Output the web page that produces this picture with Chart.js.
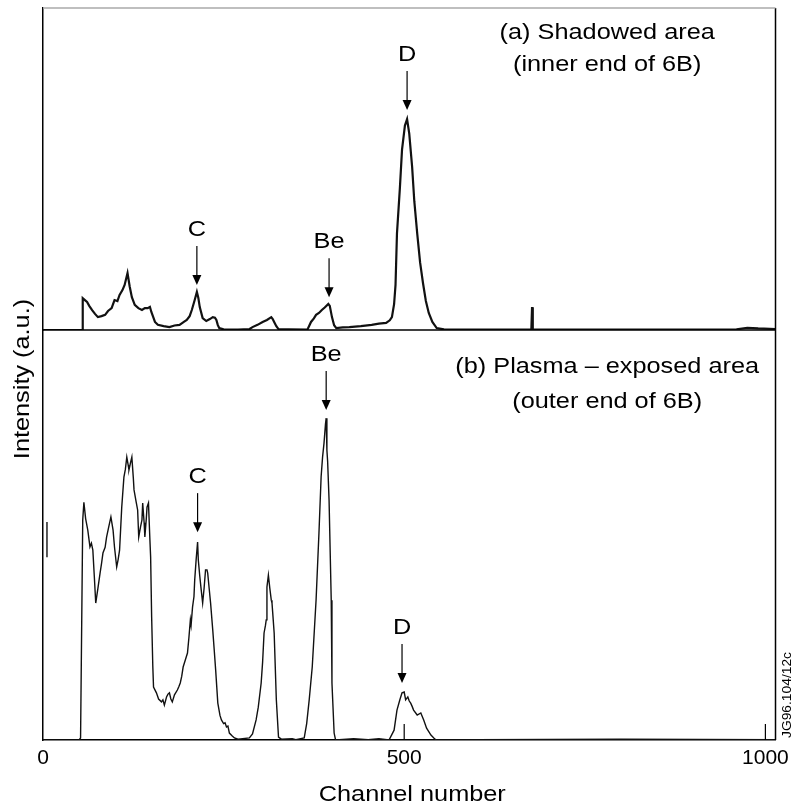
<!DOCTYPE html>
<html>
<head>
<meta charset="utf-8">
<script src="https://cdn.jsdelivr.net/npm/chart.js@4.4.1/dist/chart.umd.min.js"></script>
<style>
  html, body { margin: 0; padding: 0; background: #fff; }
  #wrap { width: 795px; height: 811px; }
</style>
</head>
<body>
<div id="wrap"><canvas id="c"></canvas></div>
<script>
// (a) shadowed area - channel / intensity (a.u., 0-100 of panel height)
var channelsA = [0, 54, 55, 58, 61, 64, 68, 72, 76, 81, 86, 90, 95, 99, 103, 106, 110, 113, 117, 120, 123, 127, 132, 137, 141, 145, 148, 150, 155, 159, 167, 175, 182, 189, 195, 199, 203, 206, 210, 213, 215, 217, 221, 226, 231, 235, 238, 240, 242, 244, 250, 270, 286, 290, 297, 304, 310, 316, 318, 320, 323, 326, 340, 366, 371, 375, 378, 382, 386, 390, 395, 397, 400, 403, 406, 415, 424, 440, 455, 465, 475, 480, 483, 486, 488, 490, 494, 497, 501, 504, 507, 511, 514, 518, 522, 526, 530, 534, 539, 545, 555, 600, 676, 677, 678, 750, 960, 975, 990, 1014]
var intensityA = [0, 0, 9.9, 9.3, 8.7, 7.5, 6.2, 5.0, 4.0, 4.3, 4.7, 5.9, 6.8, 9.3, 9.0, 10.9, 12.4, 14.0, 17.7, 13.5, 10.2, 7.8, 6.8, 6.2, 6.8, 6.8, 7.2, 5.6, 2.5, 1.6, 1.2, 0.9, 1.4, 1.6, 2.5, 3.1, 4.3, 6.2, 9.3, 11.8, 10.0, 7.1, 3.7, 2.8, 3.4, 4.0, 3.8, 3.1, 1.5, 0.6, 0.2, 0.1, 0.3, 0.9, 1.6, 2.5, 3.1, 4.0, 3.4, 2.5, 1.2, 0.3, 0.2, 0.1, 2.5, 3.6, 4.7, 5.3, 6.2, 7.0, 8.1, 7.5, 4.0, 1.5, 0.6, 0.8, 0.9, 1.2, 1.6, 2.0, 2.2, 3.0, 4.0, 8.0, 14, 30, 44, 56, 63.5, 65.5, 61, 50.6, 40, 30, 21, 14.6, 9, 5.3, 2.5, 0.6, 0.2, 0.1, 0.2, 7.1, 0.2, 0.1, 0.2, 0.7, 0.5, 0.3]

// (b) plasma-exposed area
var channelsB = [0, 50, 52, 55, 56.6, 59, 62, 65, 67, 69, 71, 73, 76, 79, 81, 83, 86, 88, 91, 94, 97, 99, 102, 104, 106, 109, 112, 114, 116, 118, 119, 121, 123, 125, 126, 129, 131, 132.5, 135, 137, 138, 140, 141, 143, 144, 146, 148, 149, 150.4, 152, 153, 157, 160, 164, 166, 168, 171, 173, 175, 177, 179, 182, 186, 188, 190, 192, 194, 197, 200, 202, 204, 205, 207, 209, 210, 212, 214, 215, 217, 219, 221, 223, 225, 227, 228, 230, 232, 235, 237, 239, 242, 245, 247, 250, 252, 254, 256, 258, 262, 265, 270, 285.7, 290, 295, 298, 302, 304, 306, 308, 309, 310, 312, 314, 316, 317, 318, 320, 323, 326, 330, 345, 350, 361.6, 365, 368.5, 372.7, 378, 382, 385, 387, 389, 391, 392, 393, 394, 396, 399, 400, 403, 405, 430, 450, 465, 479, 486, 490, 494, 497, 500, 502, 505, 507, 509, 511, 513, 518, 523, 527, 531, 537, 541, 544, 600, 800, 1014]
var intensityB = [0, 0, 0.5, 53.7, 58.0, 54, 51.2, 47.1, 48, 46.3, 40, 33.4, 37, 40.7, 43, 45.6, 47, 49.5, 52, 54.4, 51.2, 47, 42.2, 44, 46.3, 56.8, 64.1, 66, 69.0, 67, 65.9, 67.5, 69.0, 64, 61.0, 58, 56.1, 49.5, 52, 53.7, 57.8, 53, 49.5, 54, 56.8, 57.8, 48.8, 44.6, 30, 18, 12.9, 11.5, 10, 9.3, 9.8, 8.5, 10.5, 11.2, 11.5, 10, 9.3, 11, 12.2, 13, 13.9, 15.5, 17.8, 19.5, 21.2, 25, 29.3, 28, 32.4, 35, 39.0, 44, 48.3, 43.9, 40, 36.6, 33.4, 37, 41.5, 41.5, 40.7, 37, 33.4, 26.8, 22, 17.1, 9.0, 6, 4.9, 4, 4.2, 3.2, 3.4, 1.7, 1, 0.5, 0.2, 0.5, 1.5, 4.9, 8, 13.9, 19, 26.1, 28, 29.3, 37.3, 40.2, 37, 34.1, 33.4, 31, 26.1, 9.8, 0.7, 0.2, 0.3, 0.1, 0.5, 4, 9.8, 17.8, 34.1, 50.5, 64.2, 69, 72.4, 77, 78.5, 70.7, 68, 58.5, 34.1, 13.9, 1.7, 0, 0.3, 0.1, 0.3, 0, 2.4, 7.3, 9.8, 11.5, 11.7, 9.8, 10.5, 9.5, 9.0, 8.2, 7.3, 6.1, 6.6, 4.9, 2.9, 1.2, 0.5, 0, 0.1, 0.2, 0.1]

// short mark near the left axis in panel (b)
var markChannelB = [5.5, 5.5]
var markIntensityB = [44.6, 53.2]

var xTicks = [0, 500, 1000]

// peak labels: text, panel, channel, intensity of the arrow tip
var peakNames = ['C', 'Be', 'D', 'Be', 'C', 'D']
var peakPanels = ['yA', 'yA', 'yA', 'yB', 'yB', 'yB']
var peakChannels = [213, 396, 504, 392, 214, 497]
var peakTips = [14.0, 10.2, 68.3, 80.5, 50.7, 13.9]

var panelTitles = [['(a) Shadowed area', '(inner end of 6B)'], ['(b) Plasma \u2013 exposed area', '(outer end of 6B)']]

function zip (xs, ys) {
  return xs.map(function (x, i) { return { x: x, y: ys[i] } })
}

var FONT = '"Liberation Sans", Arial, Helvetica, sans-serif'
var WIDEN = 1.15 // the scanned lettering is a little wider than Arial

function wideText (ctx, text, x, y, angle) {
  ctx.save()
  ctx.translate(x, y)
  if (angle) ctx.rotate(angle)
  ctx.scale(WIDEN, 1)
  ctx.fillText(text, 0, 0)
  ctx.restore()
}

var decor = {
  id: 'decor',
  afterDraw: function (chart) {
    var ctx = chart.ctx
    var area = chart.chartArea
    var x = chart.scales.x
    var yA = chart.scales.yA
    var yB = chart.scales.yB
    ctx.save()
    ctx.strokeStyle = '#000'
    ctx.lineWidth = 1.5
    // right border and panel divider
    ctx.beginPath()
    ctx.moveTo(area.right, area.top)
    ctx.lineTo(area.right, area.bottom)
    ctx.moveTo(area.left, yA.bottom)
    ctx.lineTo(area.right, yA.bottom)
    ctx.stroke()
    // faint top edge
    ctx.strokeStyle = '#aaa'
    ctx.beginPath()
    ctx.moveTo(area.left, area.top)
    ctx.lineTo(area.right, area.top)
    ctx.stroke()
    // inward tick marks
    ctx.strokeStyle = '#000'
    ctx.lineWidth = 1.2
    ctx.beginPath()
    xTicks.slice(1).forEach(function (v) {
      var px = x.getPixelForValue(v)
      ctx.moveTo(px, area.bottom)
      ctx.lineTo(px, area.bottom - 16)
    })
    ctx.stroke()

    ctx.fillStyle = '#000'
    ctx.textAlign = 'center'
    ctx.textBaseline = 'middle'
    // peak labels with arrows
    ctx.font = '22px ' + FONT
    for (var i = 0; i < peakNames.length; i++) {
      var sc = chart.scales[peakPanels[i]]
      var px = x.getPixelForValue(peakChannels[i])
      var tip = sc.getPixelForValue(peakTips[i])
      wideText(ctx, peakNames[i], px, tip - 55)
      ctx.lineWidth = 1.2
      ctx.beginPath()
      ctx.moveTo(px, tip - 39)
      ctx.lineTo(px, tip - 8)
      ctx.stroke()
      ctx.beginPath()
      ctx.moveTo(px - 4.5, tip - 10)
      ctx.lineTo(px + 4.5, tip - 10)
      ctx.lineTo(px, tip)
      ctx.closePath()
      ctx.fill()
    }
    // panel titles
    var titleX = x.getPixelForValue(781)
    wideText(ctx, panelTitles[0][0], titleX, yA.top + 25)
    wideText(ctx, panelTitles[0][1], titleX, yA.top + 57)
    wideText(ctx, panelTitles[1][0], titleX, yB.top + 37)
    wideText(ctx, panelTitles[1][1], titleX, yB.top + 72)
    // axis titles
    wideText(ctx, 'Channel number', (area.left + area.right) / 2 + 3, 795)
    wideText(ctx, 'Intensity (a.u.)', 23, 379, -Math.PI / 2)
    // figure code
    ctx.font = '12px ' + FONT
    wideText(ctx, 'JG96.104/12c', 788, 695, -Math.PI / 2)
    ctx.restore()
  }
}

function yAxis (weight) {
  return {
    type: 'linear',
    position: 'left',
    stack: 'panels',
    stackWeight: weight,
    min: 0,
    max: 100,
    grid: { display: false, drawTicks: false },
    ticks: { display: false },
    border: { display: true, color: '#000', width: 1.5 },
    afterFit: function (s) { s.width = 0 }
  }
}

new Chart(document.getElementById('c'), {
  type: 'line',
  data: {
    datasets: [
      { data: zip(channelsB, intensityB), yAxisID: 'yB', borderColor: '#111', borderWidth: 1.4, pointRadius: 0, tension: 0 },
      { data: zip(markChannelB, markIntensityB), yAxisID: 'yB', borderColor: '#111', borderWidth: 1.4, pointRadius: 0 },
      { data: zip(channelsA, intensityA), yAxisID: 'yA', borderColor: '#111', borderWidth: 2.2, pointRadius: 0, tension: 0 }
    ]
  },
  options: {
    responsive: true,
    maintainAspectRatio: false,
    animation: false,
    layout: { padding: { left: 43, right: 18, top: 8, bottom: 0 } },
    plugins: { legend: { display: false }, tooltip: { enabled: false } },
    scales: {
      x: {
        type: 'linear',
        min: 0,
        max: 1014,
        afterBuildTicks: function (s) { s.ticks = xTicks.map(function (v) { return { value: v } }) },
        grid: { display: false, drawTicks: false },
        border: { display: true, color: '#000', width: 1.5 },
        ticks: { color: '#000', padding: 6, maxRotation: 0, font: { size: 21, family: FONT }, callback: function (v) { return String(v) } },
        afterFit: function (s) { s.height = 71 }
      },
      yB: yAxis(410),
      yA: yAxis(322)
    }
  },
  plugins: [decor]
})
</script>
</body>
</html>
